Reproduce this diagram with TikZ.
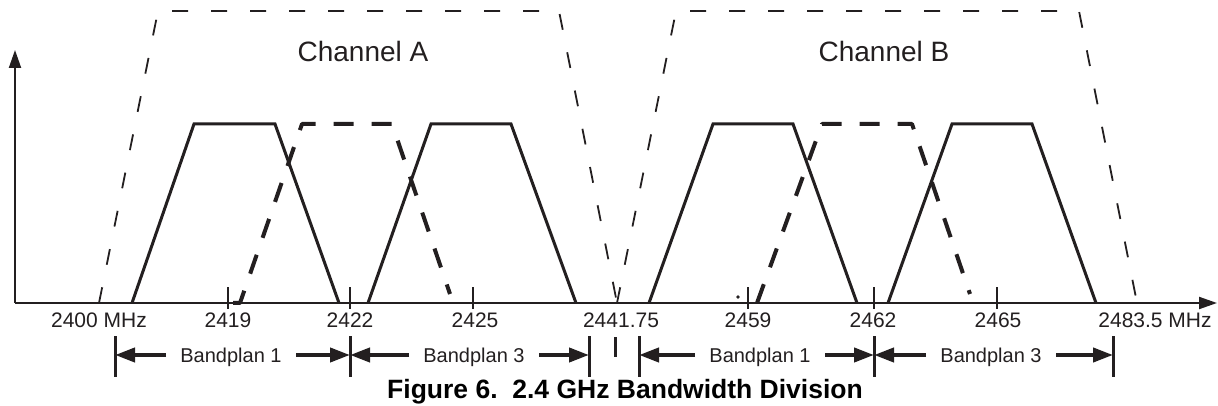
\documentclass[tikz,border=0pt]{standalone}
\usepackage{fontspec}
\setmainfont{Liberation Sans}
\usetikzlibrary{arrows.meta}
\definecolor{ink}{HTML}{231F20}

\begin{document}
\begin{tikzpicture}[x=0.5pt, y=0.5pt,
    channel/.style={line width=0.9pt, color=ink, dash pattern=on 8pt off 11.5pt},
    band/.style={line width=1.5pt, color=ink},
    bandalt/.style={line width=2pt, color=ink, line join=round, dash pattern=on 10pt off 9pt},
    tick/.style={line width=1.25pt, color=ink},
    freq/.style={font=\fontsize{10.5}{12}\selectfont, text=ink, anchor=base, inner sep=0pt},
    plan/.style={font=\fontsize{10}{12}\selectfont, text=ink, text height=7.2pt, text depth=0pt, inner xsep=7pt},
    planarrow/.style={line width=2pt, color=ink, -{Triangle[length=10pt,width=7pt]}},
    planbar/.style={line width=1.5pt, color=ink},
    axis/.style={line width=1pt, color=ink, -{Triangle[length=9pt,width=6pt]}}]
		%%%%% START %%%%%
		\useasboundingbox (0,0) rectangle (1218,406);
		
		% axes
		\coordinate (o) at (15,103);
		\coordinate (ytop) at (15,356);
		\coordinate (xend) at (1217,103);
		\draw[axis] (o) -- (ytop);
		\draw[axis] (o) -- (xend);
		
		% channels
		\draw[channel] (99,103) -- (158,395) -- (559,395) -- (617,103);
		\draw[channel] (617,103) -- (676,395) -- (1079,395) -- (1137,103);
		\node[font=\fontsize{14}{16}\selectfont, text=ink, anchor=base] (chA) at (363,344) {Channel A};
		\node[font=\fontsize{14}{16}\selectfont, text=ink, anchor=base] (chB) at (884,344) {Channel B};
		
		% bandplans, solid
		\draw[band] (132,103) -- (194,282) -- (275,282) -- (339,103);
		\draw[band] (368,103) -- (431,282) -- (511,282) -- (576,103);
		\draw[band] (649,103) -- (713,282) -- (793,282) -- (857,103);
		\draw[band] (888,103) -- (952,282) -- (1032,282) -- (1096,103);
		
		% bandplans, dashed
		\draw[bandalt] (233,103) -- (240,103) -- (302,282) -- (392,282) -- (450,112);
		\draw[bandalt] (757,103) -- (822,282) -- (912,282) -- (970,112);
		\fill[ink] (738,109) circle (1.8);
		
		% ticks
		\foreach \t in {228,350,473,748,874,997}
			\draw[tick] (\t,97) -- (\t,119);
		
		\node[freq] (f2400) at (99,78) {2400 MHz};
		\node[freq] (f2419) at (228,78) {2419};
		\node[freq] (f2422) at (350,78) {2422};
		\node[freq] (f2425) at (475,78) {2425};
		\node[freq] (f2441) at (621,78) {2441.75};
		\node[freq] (f2459) at (748,78) {2459};
		\node[freq] (f2462) at (873,78) {2462};
		\node[freq] (f2465) at (998,78) {2465};
		\node[freq, anchor=base west] (f2483) at (1098,78) {2483.5 MHz};
		
		% bandplan ranges
		\coordinate (k0) at (115,51);
		\coordinate (k1) at (350,51);
		\coordinate (k2) at (589,51);
		\coordinate (k3) at (639,51);
		\coordinate (k4) at (874,51);
		\coordinate (k5) at (1113,51);
		\foreach \k in {k0,k1,k2,k3,k4,k5}
			\draw[planbar] ([yshift=-11pt]\k) -- ([yshift=9.5pt]\k);
		\draw[planbar] (615,49) -- (615,69);
		
		\node[plan] (p1) at (231,51) {Bandplan 1};
		\node[plan] (p2) at (474,51) {Bandplan 3};
		\node[plan] (p3) at (760,51) {Bandplan 1};
		\node[plan] (p4) at (991,51) {Bandplan 3};
		\draw[planarrow] (p1.west) -- (k0);
		\draw[planarrow] (p1.east) -- (k1);
		\draw[planarrow] (p2.west) -- (k1);
		\draw[planarrow] (p2.east) -- (k2);
		\draw[planarrow] (p3.west) -- (k3);
		\draw[planarrow] (p3.east) -- (k4);
		\draw[planarrow] (p4.west) -- (k4);
		\draw[planarrow] (p4.east) -- (k5);
		
		% caption
		\node[font=\bfseries\fontsize{13.25}{15}\selectfont, text=black, anchor=base] (cap) at (625,8) {Figure 6.\ \ 2.4 GHz Bandwidth Division};
		
		%%%%% END %%%%%
\end{tikzpicture}
\end{document}
